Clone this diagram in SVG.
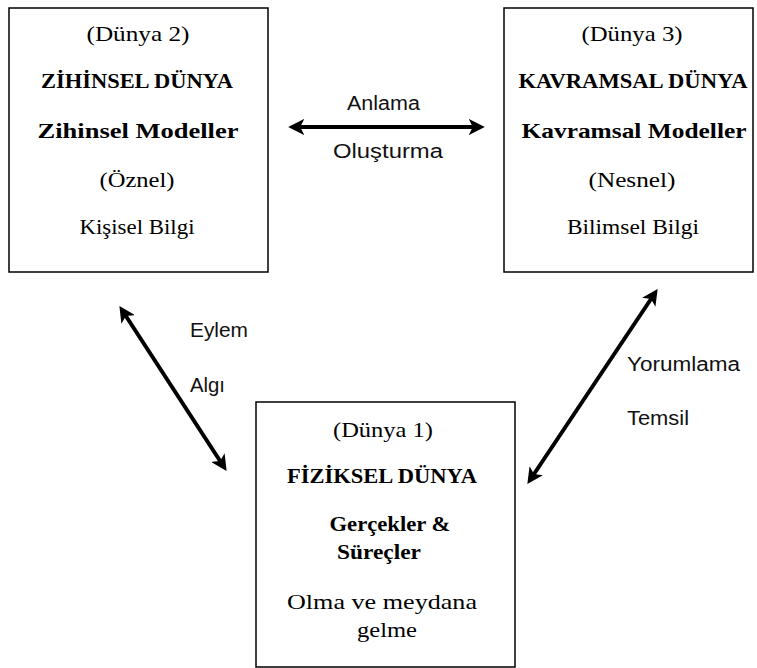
<svg xmlns="http://www.w3.org/2000/svg" width="757" height="668" viewBox="0 0 757 668">
<defs>
<style>
.box{fill:#fff;stroke:#000;stroke-width:1.5}
.t{font-family:"Liberation Serif","Times New Roman",serif;font-size:21px;fill:#000;text-anchor:middle}
.b{font-weight:bold}
.l{font-family:"Liberation Sans",Arial,sans-serif;font-size:20px;fill:#111}
.c{stroke:#000;stroke-width:4;fill:none;marker-start:url(#ah);marker-end:url(#ah)}
</style>
<marker id="ah" viewBox="0 0 10 10" refX="7" refY="5" markerWidth="4" markerHeight="4" orient="auto-start-reverse" markerUnits="strokeWidth">
<path d="M0,0 L10,5 L0,10 L2.5,5 Z" fill="#000"/>
</marker>
</defs>
<rect width="757" height="668" fill="#fff"/>
<g id="connectors">
<line class="c" x1="293" y1="127" x2="480" y2="127"/>
<line class="c" x1="122" y1="310" x2="224" y2="467"/>
<line class="c" x1="655" y1="293" x2="530" y2="480"/>
<text class="l" x="347" y="110" textLength="73" lengthAdjust="spacingAndGlyphs">Anlama</text>
<text class="l" x="333" y="158" textLength="110" lengthAdjust="spacingAndGlyphs">Oluşturma</text>
<text class="l" x="190" y="337" textLength="58" lengthAdjust="spacingAndGlyphs">Eylem</text>
<text class="l" x="190" y="392" textLength="35" lengthAdjust="spacingAndGlyphs">Algı</text>
<text class="l" x="627" y="371" textLength="113" lengthAdjust="spacingAndGlyphs">Yorumlama</text>
<text class="l" x="627" y="425" textLength="62" lengthAdjust="spacingAndGlyphs">Temsil</text>
</g>
<g id="dunya2">
<rect class="box" x="9" y="8" width="259" height="264"/>
<text class="t" x="138" y="41" textLength="103" lengthAdjust="spacingAndGlyphs">(Dünya 2)</text>
<text class="t b" x="137" y="88" textLength="192" lengthAdjust="spacingAndGlyphs">ZİHİNSEL DÜNYA</text>
<text class="t b" x="138" y="138" textLength="201" lengthAdjust="spacingAndGlyphs">Zihinsel Modeller</text>
<text class="t" x="137" y="187" textLength="75" lengthAdjust="spacingAndGlyphs">(Öznel)</text>
<text class="t" x="137" y="234" textLength="115" lengthAdjust="spacingAndGlyphs">Kişisel Bilgi</text>
</g>
<g id="dunya3">
<rect class="box" x="504" y="8" width="249" height="264"/>
<text class="t" x="632" y="41" textLength="101" lengthAdjust="spacingAndGlyphs">(Dünya 3)</text>
<text class="t b" x="633" y="88" textLength="229" lengthAdjust="spacingAndGlyphs">KAVRAMSAL DÜNYA</text>
<text class="t b" x="634" y="138" textLength="225" lengthAdjust="spacingAndGlyphs">Kavramsal Modeller</text>
<text class="t" x="632" y="187" textLength="87" lengthAdjust="spacingAndGlyphs">(Nesnel)</text>
<text class="t" x="633" y="234" textLength="132" lengthAdjust="spacingAndGlyphs">Bilimsel Bilgi</text>
</g>
<g id="dunya1">
<rect class="box" x="256" y="402" width="259" height="265"/>
<text class="t" x="383" y="437" textLength="100" lengthAdjust="spacingAndGlyphs">(Dünya 1)</text>
<text class="t b" x="382" y="483" textLength="190" lengthAdjust="spacingAndGlyphs">FİZİKSEL DÜNYA</text>
<text class="t b" x="390" y="531" textLength="121" lengthAdjust="spacingAndGlyphs">Gerçekler &amp;</text>
<text class="t b" x="379" y="559" textLength="84" lengthAdjust="spacingAndGlyphs">Süreçler</text>
<text class="t" x="382" y="609" textLength="190" lengthAdjust="spacingAndGlyphs">Olma ve meydana</text>
<text class="t" x="387" y="637" textLength="60" lengthAdjust="spacingAndGlyphs">gelme</text>
</g>
</svg>
